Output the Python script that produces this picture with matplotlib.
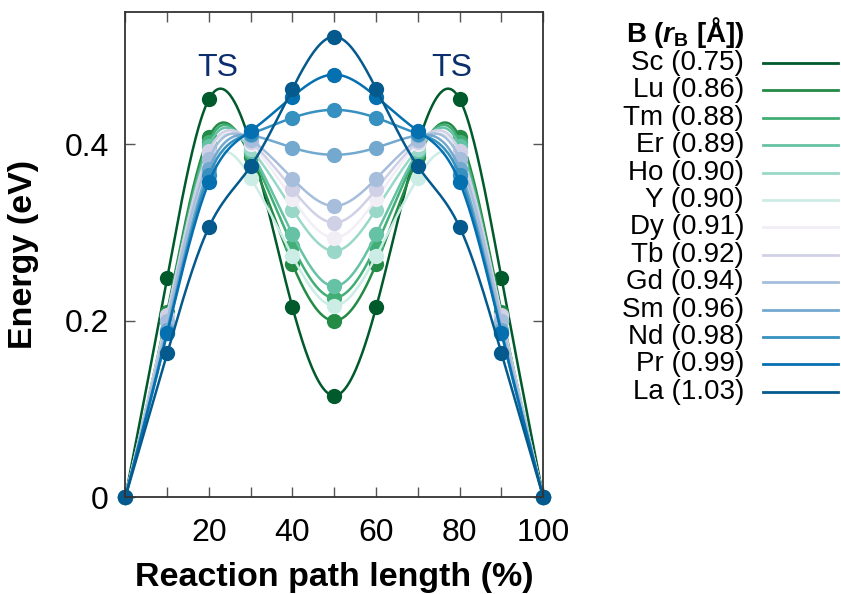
import numpy as np
import matplotlib
matplotlib.use('Agg')
import matplotlib.pyplot as plt
from matplotlib.lines import Line2D

plt.rcParams['font.family'] = ['Liberation Sans', 'DejaVu Sans']
plt.rcParams['mathtext.fontset'] = 'custom'
plt.rcParams['mathtext.rm'] = 'Liberation Sans'
plt.rcParams['mathtext.it'] = 'Liberation Sans:italic:bold'
plt.rcParams['mathtext.bf'] = 'Liberation Sans:bold'

# reaction coordinate (%), left half; profiles are symmetric about 50
x_half = [0, 10, 20, 30, 40, 50]

names = ['Sc', 'Lu', 'Tm', 'Er', 'Ho', 'Y', 'Dy', 'Tb', 'Gd', 'Sm', 'Nd', 'Pr', 'La']
radii = ['0.75', '0.86', '0.88', '0.89', '0.90', '0.90', '0.91', '0.92', '0.94', '0.96', '0.98', '0.99', '1.03']
colors = ['#005a2c', '#238b45', '#41ae76', '#66c2a4', '#99d8c9', '#ccece6', '#f1eef6',
          '#d0d1e6', '#a6bddb', '#74a9cf', '#3690c0', '#0570b0', '#045a8d']

E_Sc = [0, 0.248, 0.451, 0.400, 0.215, 0.115]
E_Lu = [0, 0.210, 0.408, 0.385, 0.264, 0.200]
E_Tm = [0, 0.205, 0.403, 0.390, 0.285, 0.226]
E_Er = [0, 0.200, 0.398, 0.392, 0.298, 0.239]
E_Ho = [0, 0.200, 0.390, 0.395, 0.326, 0.279]
E_Y = [0, 0.190, 0.375, 0.362, 0.273, 0.217]
E_Dy = [0, 0.205, 0.390, 0.400, 0.338, 0.294]
E_Tb = [0, 0.206, 0.392, 0.403, 0.349, 0.311]
E_Gd = [0, 0.200, 0.383, 0.405, 0.361, 0.330]
E_Sm = [0, 0.190, 0.372, 0.410, 0.396, 0.388]
E_Nd = [0, 0.186, 0.365, 0.412, 0.430, 0.439]
E_Pr = [0, 0.186, 0.357, 0.415, 0.454, 0.479]
E_La = [0, 0.163, 0.306, 0.375, 0.463, 0.522]

energies = [E_Sc, E_Lu, E_Tm, E_Er, E_Ho, E_Y, E_Dy, E_Tb, E_Gd, E_Sm, E_Nd, E_Pr, E_La]


def natural_spline(x, y, xs):
    x = np.asarray(x, float)
    y = np.asarray(y, float)
    n = len(x)
    h = np.diff(x)
    A = np.zeros((n, n))
    b = np.zeros(n)
    A[0, 0] = A[-1, -1] = 1
    for i in range(1, n - 1):
        A[i, i - 1] = h[i - 1]
        A[i, i] = 2 * (h[i - 1] + h[i])
        A[i, i + 1] = h[i]
        b[i] = 6 * ((y[i + 1] - y[i]) / h[i] - (y[i] - y[i - 1]) / h[i - 1])
    M = np.linalg.solve(A, b)
    k = np.clip(np.searchsorted(x, xs) - 1, 0, n - 2)
    t0 = x[k + 1] - xs
    t1 = xs - x[k]
    hk = h[k]
    return (M[k] * t0 ** 3 / (6 * hk) + M[k + 1] * t1 ** 3 / (6 * hk)
            + (y[k] / hk - M[k] * hk / 6) * t0 + (y[k + 1] / hk - M[k + 1] * hk / 6) * t1)


fig = plt.figure(figsize=(8.41, 5.94), dpi=100)
ax = fig.add_axes([0.149, 0.163, 0.497, 0.817])

xs = np.linspace(0, 100, 400)
for name, e, c in zip(names, energies, colors):
    xf = x_half + [100 - v for v in x_half[-2::-1]]
    yf = e + e[-2::-1]
    ax.plot(xs, natural_spline(xf, yf, xs), color=c, lw=1.8)
    ax.plot(xf, yf, 'o', color=c, ms=11, mec='none', clip_on=False)

ax.text(22, 0.486, 'TS', color='#0b2e6e', fontsize=23, ha='center', va='center')
ax.text(78, 0.486, 'TS', color='#0b2e6e', fontsize=23, ha='center', va='center')

ax.set_xlim(0, 100)
ax.set_ylim(0, 0.55)
ax.set_xticks(np.arange(0, 101, 10))
ax.set_xticklabels(['' if v % 20 or v == 0 else str(v) for v in range(0, 101, 10)])
ax.set_yticks([0, 0.2, 0.4])
ax.set_yticklabels(['0', '0.2', '0.4'])
ax.tick_params(direction='in', length=7, width=1, colors='#555555', labelcolor='black',
               labelsize=23, top=True, right=True, pad=12)
ax.tick_params(axis='x', pad=15)
for s in ax.spines.values():
    s.set_color('#333333')
    s.set_linewidth(1.3)

ax.set_xlabel('Reaction path length (%)', fontsize=24.5, fontweight='bold', labelpad=10)
ax.set_ylabel('Energy (eV)', fontsize=24.5, fontweight='bold', labelpad=18)

# legend (text right-aligned, line sample to the right)
fig.text(685 / 841, 1 - 33 / 594, r'B ($\it{r}_{\bf B}$ [Å])', fontsize=20, fontweight='bold',
         ha='center', va='center')
for i, (name, r, c) in enumerate(zip(names, radii, colors)):
    yy = 1 - (63 + 27.4 * i) / 594
    fig.text(744 / 841, yy, f'{name} ({r})', fontsize=20, ha='right', va='center')
    fig.add_artist(Line2D([763 / 841, 838 / 841], [yy, yy], color=c, lw=2,
                          transform=fig.transFigure))

fig.savefig('out.png', dpi=100)
